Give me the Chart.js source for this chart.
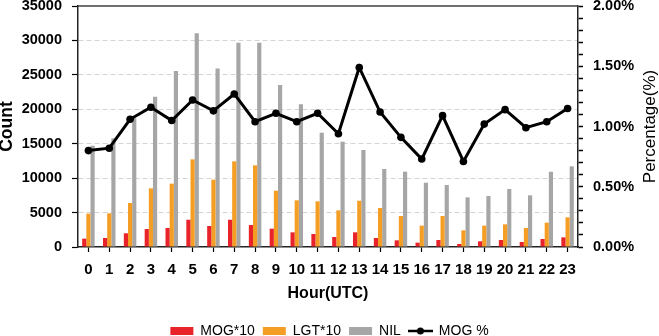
<!DOCTYPE html>
<html>
<head>
<meta charset="utf-8">
<script src="https://cdn.jsdelivr.net/npm/chart.js@4"></script>
<style>
  html, body { margin: 0; padding: 0; background: #fff; }
  #wrap { width: 659px; height: 336px; position: relative; }
</style>
</head>
<body>
<div id="wrap"><canvas id="hourChart"></canvas></div>
<script>
var horas = ['0','1','2','3','4','5','6','7','8','9','10','11','12','13','14','15','16','17','18','19','20','21','22','23'];
var mog10 = [1210, 1310, 1990, 2610, 2760, 3960, 3050, 3960, 3190, 2660, 2130, 1890, 1450, 2130, 1310, 970, 630, 1020, 440, 830, 1020, 730, 1160, 1400];
var lgt10 = [4840, 4890, 6390, 8520, 9200, 12730, 9780, 12440, 11860, 8180, 6780, 6630, 5320, 6720, 5660, 4500, 3100, 4500, 2420, 3100, 3290, 2760, 3530, 4310];
var nil = [14710, 15780, 18690, 21830, 25560, 31030, 25940, 29670, 29670, 23520, 20720, 16600, 15290, 14090, 11330, 10940, 9340, 9000, 7210, 7400, 8420, 7500, 10930, 11710];
var mogPct = [0.80, 0.82, 1.06, 1.16, 1.05, 1.22, 1.13, 1.27, 1.04, 1.11, 1.04, 1.11, 0.94, 1.49, 1.12, 0.91, 0.73, 1.09, 0.71, 1.02, 1.14, 0.99, 1.04, 1.15];
var countTicks = { min: 0, max: 35000, step: 5000 };
var pctTicks = { min: 0, max: 2, step: 0.1, labelEvery: 0.5 };

var fuente = "'Liberation Sans', Arial, sans-serif";
Chart.defaults.font.family = fuente;
Chart.defaults.color = '#000';

// icono de leyenda para la serie de linea: trazo con punto
function iconoLinea() {
    var c = document.createElement('canvas');
    c.width = 25; c.height = 10;
    var g = c.getContext('2d');
    g.strokeStyle = '#000';
    g.lineWidth = 2.5;
    g.beginPath(); g.moveTo(0, 5); g.lineTo(25, 5); g.stroke();
    g.fillStyle = '#000';
    g.beginPath(); g.arc(12.5, 5, 3.5, 0, Math.PI * 2); g.fill();
    return c;
}
var icono = iconoLinea();

// borde superior y titulo del eje derecho
var extras = {
    id: 'extras',
    beforeDatasetsDraw: function(chart) {
        var a = chart.chartArea, ctx = chart.ctx;
        ctx.save();
        ctx.strokeStyle = '#404040';
        ctx.lineWidth = 1.5;
        ctx.beginPath();
        ctx.moveTo(a.left, a.top);
        ctx.lineTo(a.right, a.top);
        ctx.stroke();
        ctx.restore();
    },
    afterDraw: function(chart) {
        var a = chart.chartArea, ctx = chart.ctx;
        ctx.save();
        ctx.translate(650, (a.top + a.bottom) / 2);
        ctx.rotate(-Math.PI / 2);
        ctx.font = '17px ' + fuente;
        ctx.fillStyle = '#000';
        ctx.textAlign = 'center';
        ctx.textBaseline = 'middle';
        ctx.fillText('Percentage(%)', 0, 0);
        ctx.restore();
    }
};

var ctx = document.getElementById('hourChart').getContext('2d');
new Chart(ctx, {
    type: 'bar',
    data: {
        labels: horas,
        datasets: [
            { label: 'MOG*10', data: mog10, backgroundColor: '#e8232a', yAxisID: 'y' },
            { label: 'LGT*10', data: lgt10, backgroundColor: '#f59e25', yAxisID: 'y' },
            { label: 'NIL', data: nil, backgroundColor: '#a6a6a6', yAxisID: 'y' },
            {
                type: 'line', label: 'MOG %', data: mogPct, yAxisID: 'y1', order: -1,
                borderColor: '#000', backgroundColor: '#000', borderWidth: 3,
                pointRadius: 3.8, pointBackgroundColor: '#000', pointBorderWidth: 0,
                tension: 0
            }
        ]
    },
    plugins: [extras],
    options: {
        responsive: true,
        maintainAspectRatio: false,
        animation: false,
        categoryPercentage: 0.6,
        barPercentage: 1.0,
        layout: { padding: { top: 6, left: 0, right: 0, bottom: 0 } },
        plugins: {
            tooltip: { enabled: false },
            legend: {
                position: 'bottom',
                maxHeight: 20,
                labels: {
                    usePointStyle: true,
                    pointStyleWidth: 23,
                    boxHeight: 8,
                    padding: 8,
                    font: { size: 14 },
                    color: '#000',
                    sort: function(a, b) { return a.datasetIndex - b.datasetIndex; },
                    generateLabels: function(chart) {
                        var items = Chart.defaults.plugins.legend.labels.generateLabels(chart);
                        items.forEach(function(it) {
                            it.lineWidth = 0;
                            it.pointStyle = it.datasetIndex === 3 ? icono : 'rect';
                        });
                        return items;
                    }
                }
            }
        },
        scales: {
            x: {
                offset: true,
                grid: { offset: false, drawOnChartArea: false, drawTicks: true, tickLength: 5, tickColor: '#000', tickWidth: 1.2 },
                border: { color: '#222', width: 1.5 },
                ticks: { autoSkip: false, maxRotation: 0, padding: 9, font: { size: 15, weight: 'bold' } },
                title: { display: true, text: 'Hour(UTC)', font: { size: 16, weight: 'bold' }, padding: { top: 0, bottom: 13 } },
                afterFit: function(s) { s.height = 69; }
            },
            y: {
                position: 'left',
                min: countTicks.min,
                max: countTicks.max,
                ticks: {
                    stepSize: countTicks.step, padding: 10, font: { size: 14.5, weight: 'bold' },
                    callback: function(v) { return String(v); }
                },
                grid: {
                    color: function(c) {
                        var v = c.tick ? c.tick.value : 0;
                        return (v === countTicks.min || v === countTicks.max) ? 'rgba(0,0,0,0)' : '#d4d4d4';
                    },
                    lineWidth: 1,
                    tickLength: 6,
                    tickColor: '#000',
                    tickWidth: 1.2
                },
                border: { color: '#222', width: 1.5, dash: [5, 3] },
                title: { display: true, text: 'Count', font: { size: 17.5, weight: 'bold', lineHeight: 1 }, padding: { top: -2, bottom: 0 } },
                afterFit: function(s) { s.width = 78; s.paddingTop = 0; s.paddingBottom = 0; }
            },
            y1: {
                position: 'right',
                min: pctTicks.min,
                max: pctTicks.max,
                ticks: {
                    stepSize: pctTicks.step,
                    autoSkip: false,
                    padding: 10,
                    font: { size: 14.5, weight: 'bold' },
                    callback: function(v) {
                        var r = v / pctTicks.labelEvery;
                        return Math.abs(r - Math.round(r)) < 1e-6 ? v.toFixed(2) + '%' : '';
                    }
                },
                grid: { drawOnChartArea: false, drawTicks: true, tickLength: 5, tickColor: '#000', tickWidth: 1.5 },
                border: { color: '#222', width: 1.5 },
                afterFit: function(s) { s.width = 81; s.paddingTop = 0; s.paddingBottom = 0; }
            }
        }
    }
});
</script>
</body>
</html>
